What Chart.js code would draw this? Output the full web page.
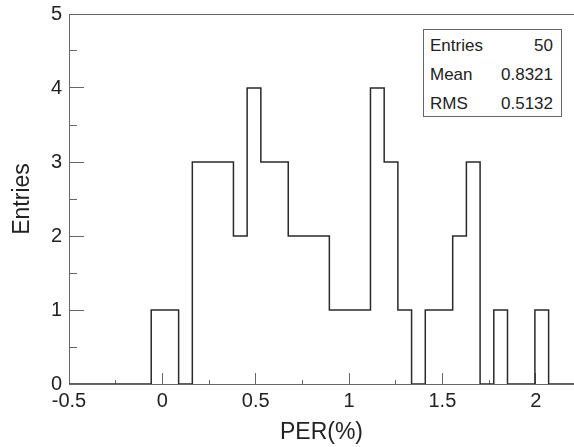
<!DOCTYPE html>
<html>
<head>
<meta charset="utf-8">
<script src="https://cdn.jsdelivr.net/npm/chart.js@4.4.0/dist/chart.umd.min.js"></script>
<style>
html, body { margin: 0; padding: 0; background: #fff; overflow: hidden; }
#wrap { position: relative; width: 574px; height: 447px; }
#stats {
    position: absolute; left: 423px; top: 29px; width: 139px; height: 88px;
    box-sizing: border-box; border: 1px solid #666; background: #fff;
    padding: 1px 8px 0 6px;
    font: 17px "Liberation Sans", Arial, sans-serif; color: #222;
}
#stats div { display: flex; justify-content: space-between; height: 29px; line-height: 29px; }
</style>
</head>
<body>
<div id="wrap">
    <canvas id="hist" width="574" height="447"></canvas>
    <div id="stats"></div>
</div>
<script>
// Histogramme PER(%)
const binLow = -0.5;
const binWidth = 0.0734;
const counts = [0, 0, 0, 0, 0, 0, 1, 1, 0, 3, 3, 3, 2, 4, 3, 3, 2, 2, 2, 1,
                1, 1, 4, 3, 1, 0, 1, 1, 2, 3, 0, 1, 0, 0, 1, 0, 0, 0];
const xTicks = [-0.5, -0.25, 0, 0.25, 0.5, 0.75, 1, 1.25, 1.5, 1.75, 2];
const yTicks = [0, 0.5, 1, 1.5, 2, 2.5, 3, 3.5, 4, 4.5, 5];
const statNames = ['Entries', 'Mean', 'RMS'];
const statValues = ['50', '0.8321', '0.5132'];

// boîte de statistiques
var stats = document.getElementById('stats');
for (var i = 0; i < statNames.length; i++) {
    var row = document.createElement('div');
    row.innerHTML = '<span>' + statNames[i] + '</span><span>' + statValues[i] + '</span>';
    stats.appendChild(row);
}

// points aux bords des bins (stepped)
var points = counts.map(function(c, k) {
    return { x: binLow + k * binWidth, y: c };
});
points.push({ x: binLow + counts.length * binWidth, y: 0 });

var isMajorX = function(v) { return Math.abs(v * 2 - Math.round(v * 2)) < 1e-6; };
var isMajorY = function(v) { return Math.abs(v - Math.round(v)) < 1e-6; };

const frame = {
    id: 'frame',
    beforeDatasetsDraw(chart) {
        var a = chart.chartArea, ctx = chart.ctx;
        ctx.save();
        ctx.strokeStyle = '#666';
        ctx.lineWidth = 1;
        ctx.beginPath();
        ctx.moveTo(a.left, a.top + 0.5);
        ctx.lineTo(a.right, a.top + 0.5);
        ctx.stroke();
        ctx.restore();
    }
};

const font = { family: '"Liberation Sans", Arial, sans-serif', size: 20 };

new Chart(document.getElementById('hist'), {
    type: 'line',
    data: {
        datasets: [{
            data: points,
            stepped: true,
            borderColor: '#2a2a2a',
            borderWidth: 1.5,
            pointRadius: 0,
            fill: false
        }]
    },
    plugins: [frame],
    options: {
        responsive: false,
        animation: false,
        devicePixelRatio: 1,
        layout: { padding: { top: 14, right: 0, left: 0, bottom: 0 } },
        plugins: { legend: { display: false }, tooltip: { enabled: false } },
        scales: {
            x: {
                type: 'linear',
                min: -0.5,
                max: 2.205,
                afterFit: function(s) {
                    s.height = 63;
                    s.paddingLeft = 0;
                    s.paddingRight = 0;
                },
                afterBuildTicks: function(s) {
                    s.ticks = xTicks.map(function(v) { return { value: v }; });
                },
                border: { display: true, color: '#666', width: 1 },
                grid: {
                    drawOnChartArea: false,
                    tickLength: -11,
                    tickColor: '#666',
                    tickBorderDash: function(ctx) {
                        return isMajorX(ctx.tick.value) ? [] : [5, 50];
                    }
                },
                ticks: {
                    autoSkip: false,
                    maxRotation: 0,
                    padding: 16,
                    color: '#222',
                    font: font,
                    callback: function(v) { return isMajorX(v) ? String(v) : ''; }
                },
                title: {
                    display: true,
                    text: 'PER(%)',
                    color: '#222',
                    font: { family: font.family, size: 23 },
                    padding: { top: 0, bottom: 1 }
                }
            },
            y: {
                min: 0,
                max: 5,
                afterFit: function(s) {
                    s.width = 69;
                    s.paddingTop = 0;
                    s.paddingBottom = 0;
                },
                afterBuildTicks: function(s) {
                    s.ticks = yTicks.map(function(v) { return { value: v }; });
                },
                border: { display: true, color: '#666', width: 1 },
                grid: {
                    drawOnChartArea: false,
                    tickLength: -15,
                    tickColor: '#666',
                    tickBorderDash: function(ctx) {
                        return isMajorY(ctx.tick.value) ? [] : [0, 7, 8, 50];
                    }
                },
                ticks: {
                    autoSkip: false,
                    padding: 22,
                    color: '#222',
                    font: font,
                    callback: function(v) { return isMajorY(v) ? String(v) : ''; }
                },
                title: {
                    display: true,
                    text: 'Entries',
                    color: '#222',
                    font: { family: font.family, size: 23 },
                    padding: { top: 9, bottom: 0 }
                }
            }
        }
    }
});
</script>
</body>
</html>
